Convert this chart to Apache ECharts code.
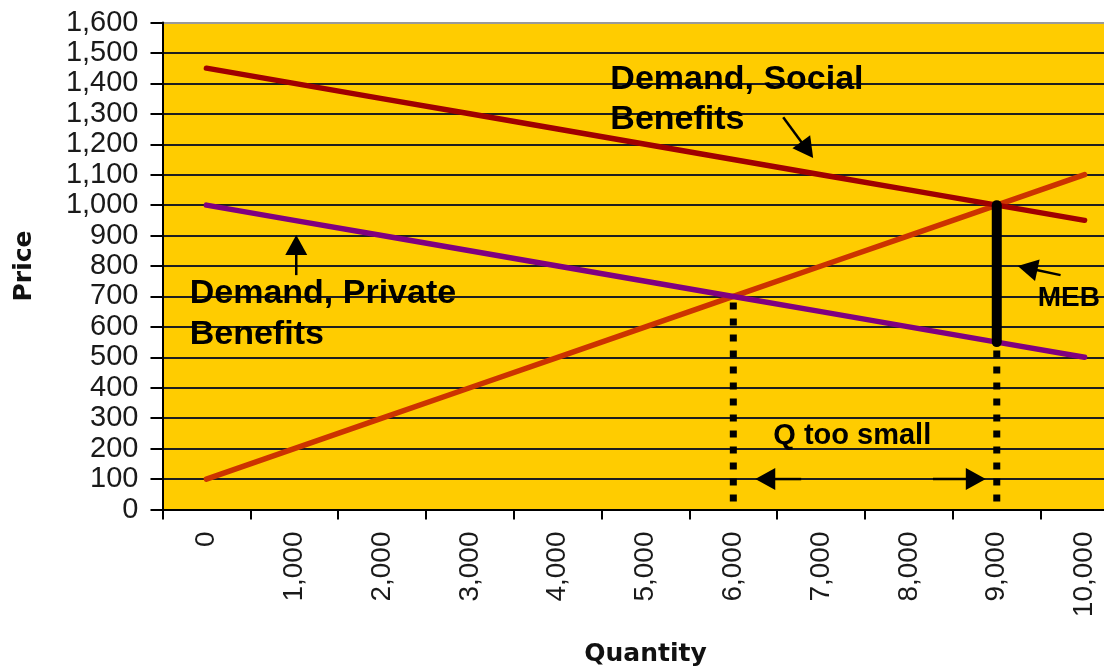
<!DOCTYPE html>
<html>
<head>
<meta charset="utf-8">
<script src="https://cdn.jsdelivr.net/npm/echarts@6/dist/echarts.min.js"></script>
<style>
  html, body { margin: 0; padding: 0; background: #ffffff; }
  #chart { width: 1104px; height: 668px; }
</style>
</head>
<body>
<div id="chart"></div>
<script>
// Quantity categories (x axis) and their numeric values
const quantityLabels = ['0', '1,000', '2,000', '3,000', '4,000', '5,000', '6,000', '7,000', '8,000', '9,000', '10,000'];
const quantities = [0, 1000, 2000, 3000, 4000, 5000, 6000, 7000, 8000, 9000, 10000];

// Price curves
const supply = [100, 200, 300, 400, 500, 600, 700, 800, 900, 1000, 1100];
const privateDemand = [1000, 950, 900, 850, 800, 750, 700, 650, 600, 550, 500];
const socialDemand = [1450, 1400, 1350, 1300, 1250, 1200, 1150, 1100, 1050, 1000, 950];

// Price axis range
const priceMin = 0;
const priceMax = 1600;
const priceStep = 100;

// Marginal external benefit at the efficient quantity
const mebSegment = [[9000, 550], [9000, 1000]];
// Drop lines from the private and social equilibria to the axis
const privateDrop = [[6000, 0], [6000, 700]];
const socialDrop = [[9000, 0], [9000, 550]];

const chart = echarts.init(document.getElementById('chart'), null, { renderer: 'canvas' });

const toPairs = (ys) => quantities.map((q, i) => [q, ys[i]]);

const gridLineColors = [];
for (let v = priceMin; v <= priceMax; v += priceStep) {
  gridLineColors.push(v === priceMax ? '#9a9a9a' : '#1e1e1e');
}

const curve = (name, ys, color) => ({
  name, type: 'line', xAxisIndex: 1, yAxisIndex: 0,
  data: toPairs(ys), symbol: 'none', silent: true,
  lineStyle: { color, width: 5.5, cap: 'round' }, z: 3
});

const dotted = (data) => ({
  type: 'line', xAxisIndex: 1, yAxisIndex: 0, data, symbol: 'none', silent: true,
  lineStyle: { color: '#000', width: 7, type: [7, 9], dashOffset: 8, cap: 'butt' }, z: 4
});

chart.setOption({
  animation: false,
  backgroundColor: '#ffffff',
  grid: {
    left: 162.5, top: 22.5, right: -24.5, bottom: 158.5,
    show: true, backgroundColor: '#FFCC00', borderWidth: 0,
    containLabel: false, outerBoundsMode: 'none'
  },
  xAxis: [
    {
      type: 'category', data: quantityLabels, boundaryGap: true,
      name: 'Quantity', nameLocation: 'middle', nameGap: 132,
      nameTextStyle: { fontFamily: 'DejaVu Sans', fontWeight: 'bold', fontSize: 25, color: '#111' },
      axisLine: { show: true, onZero: false, lineStyle: { color: '#000', width: 2 } },
      axisTick: { show: true, length: 10, interval: 0, lineStyle: { color: '#000', width: 2 } },
      axisLabel: {
        rotate: 90, margin: 22, interval: 0,
        fontFamily: 'Liberation Sans', fontSize: 28, color: '#1a1a1a'
      },
      splitLine: { show: false }
    },
    {
      type: 'value', min: -500, max: 10500, show: false
    }
  ],
  yAxis: {
    type: 'value', min: priceMin, max: priceMax, interval: priceStep,
    name: 'Price', nameLocation: 'middle', nameGap: 126, nameRotate: 90,
    nameTextStyle: { fontFamily: 'DejaVu Sans', fontWeight: 'bold', fontSize: 25, color: '#111' },
    axisLine: { show: true, onZero: false, lineStyle: { color: '#000', width: 2 } },
    axisTick: { show: true, length: 12, lineStyle: { color: '#000', width: 2 } },
    axisLabel: {
      margin: 24, fontFamily: 'Liberation Sans', fontSize: 29, color: '#1a1a1a',
      formatter: (v) => v.toLocaleString('en-US')
    },
    splitLine: { show: true, lineStyle: { color: gridLineColors, width: 1.8 } }
  },
  series: [
    curve('Supply', supply, '#CC3300'),
    curve('Demand, Private Benefits', privateDemand, '#800080'),
    curve('Demand, Social Benefits', socialDemand, '#A00000'),
    dotted(privateDrop),
    dotted(socialDrop),
    {
      name: 'MEB', type: 'line', xAxisIndex: 1, yAxisIndex: 0, data: mebSegment,
      symbol: 'none', silent: true,
      lineStyle: { color: '#000', width: 10, cap: 'round' }, z: 5
    }
  ]
});

// Annotation anchors in data space [quantity, price]
const labelNotes = [
  { text: 'Demand, Social\nBenefits', at: [4600, 1477], size: 34, lh: 40 },
  { text: 'Demand, Private\nBenefits', at: [-190, 777], size: 34, lh: 41 },
  { text: 'Q too small', at: [6455, 290], size: 29, lh: 29 },
  { text: 'MEB', at: [9466, 740], size: 28, lh: 28 }
];
const arrowNotes = [
  { from: [6568, 1289], to: [6909, 1155] },
  { from: [1023, 770], to: [1023, 902] },
  { from: [9727, 770], to: [9239, 800] },
  { from: [6773, 100], to: [6250, 100] },
  { from: [8273, 100], to: [8875, 100] }
];

const px = (p) => chart.convertToPixel({ xAxisIndex: 1, yAxisIndex: 0 }, p);

const graphics = [];
labelNotes.forEach((n) => {
  const [x, y] = px(n.at);
  graphics.push({
    type: 'text', x, y, z: 20, silent: true,
    style: {
      text: n.text, fill: '#000', align: 'left', verticalAlign: 'top',
      font: 'bold ' + n.size + 'px "Liberation Sans", Arial, sans-serif',
      lineHeight: n.lh
    }
  });
});
arrowNotes.forEach((a) => {
  const [x1, y1] = px(a.from);
  const [x2, y2] = px(a.to);
  const dx = x2 - x1, dy = y2 - y1;
  const len = Math.hypot(dx, dy);
  const ux = dx / len, uy = dy / len;
  const headLen = 20, halfW = 11;
  const bx = x2 - ux * headLen, by = y2 - uy * headLen;
  graphics.push({
    type: 'line', z: 20, silent: true,
    shape: { x1, y1, x2: bx + ux * 2, y2: by + uy * 2 },
    style: { stroke: '#000', lineWidth: 2.5 }
  });
  graphics.push({
    type: 'polygon', z: 20, silent: true,
    shape: { points: [[x2, y2], [bx - uy * halfW, by + ux * halfW], [bx + uy * halfW, by - ux * halfW]] },
    style: { fill: '#000' }
  });
});
chart.setOption({ graphic: graphics });
</script>
</body>
</html>
